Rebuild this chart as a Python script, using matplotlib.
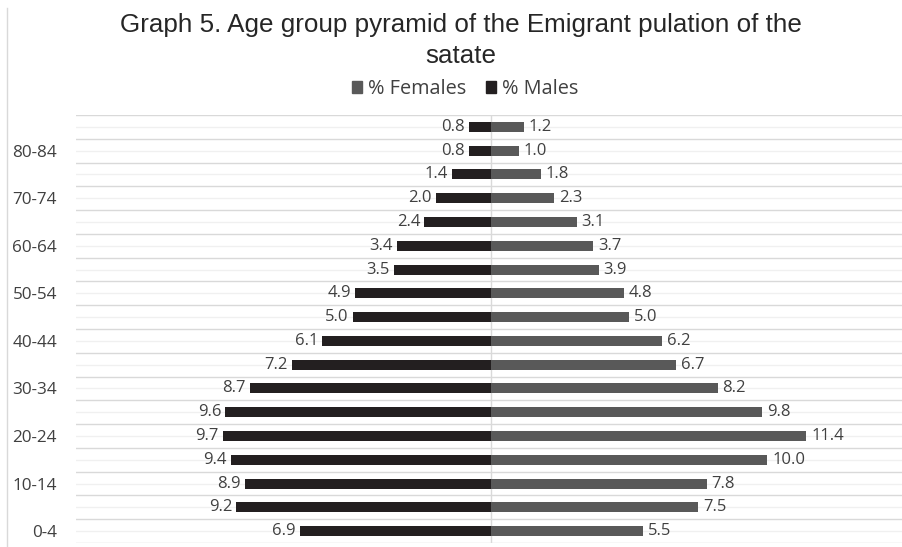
import matplotlib
matplotlib.use("Agg")
import matplotlib.pyplot as plt
import numpy as np
from matplotlib.patches import Patch
from matplotlib.lines import Line2D

categories = ["0-4", "5-9", "10-14", "15-19", "20-24", "25-29", "30-34", "35-39",
              "40-44", "45-49", "50-54", "55-59", "60-64", "65-69", "70-74",
              "75-79", "80-84", "85+"]
males = [6.9, 9.2, 8.9, 9.4, 9.7, 9.6, 8.7, 7.2, 6.1, 5.0, 4.9, 3.5, 3.4, 2.4, 2.0, 1.4, 0.8, 0.8]
females = [5.5, 7.5, 7.8, 10.0, 11.4, 9.8, 8.2, 6.7, 6.2, 5.0, 4.8, 3.9, 3.7, 3.1, 2.3, 1.8, 1.0, 1.2]

male_color = "#231f20"
female_color = "#595959"
text_color = "#404040"

fig = plt.figure(figsize=(9.02, 5.47), dpi=100)
ax = fig.add_axes([76/902, 4/547, 1 - 76/902, 428/547])

y = np.arange(len(categories))
ax.barh(y, [-m for m in males], height=0.42, color=male_color, zorder=3)
ax.barh(y, females, height=0.42, color=female_color, zorder=3)

for yi, m, f in zip(y, males, females):
    ax.annotate(f"{m:.1f}", (-m, yi), xytext=(-3, 0), textcoords="offset points",
                ha="right", va="center", fontsize=12, color=text_color, family="Open Sans")
    ax.annotate(f"{f:.1f}", (f, yi), xytext=(3.5, 0), textcoords="offset points",
                ha="left", va="center", fontsize=12, color=text_color, family="Open Sans")

ax.set_xlim(-15, (902 - 491) / 27.65)
ax.set_ylim(-0.5, len(categories) - 0.5)

# gridlines
for b in np.arange(-0.5, len(categories), 1.0):
    ax.axhline(b, color="#d9d9d9", lw=1.0, zorder=1)
for c in y:
    ax.axhline(c, color="#f0f0f0", lw=1.0, zorder=1)
ax.axvline(0, color="#d9d9d9", lw=1.0, zorder=2)

ax.set_yticks(y[::2])
ax.set_yticklabels(categories[::2], fontsize=12.3, color=text_color, family="Open Sans")
ax.tick_params(axis="y", length=0, pad=13.7)
ax.set_xticks([])
for s in ax.spines.values():
    s.set_visible(False)

# left chart border
fig.add_artist(Line2D([7/902, 7/902], [0, 1 - 8/547], transform=fig.transFigure,
                      color="#d9d9d9", lw=1.0))

fig.text(461/902, 1 - 25/547, "Graph 5. Age group pyramid of the Emigrant pulation of the",
         ha="center", va="center", fontsize=18.7, color="#262626", family="Liberation Sans")
fig.text(461/902, 1 - 56/547, "satate",
         ha="center", va="center", fontsize=18.7, color="#262626", family="Liberation Sans")

handles = [Patch(color=female_color, label="% Females"), Patch(color=male_color, label="% Males")]
leg = fig.legend(handles=handles, loc="center", bbox_to_anchor=(465/902, 1 - 89/547), ncol=2,
                 frameon=False, handlelength=0.5, handleheight=0.5, handletextpad=0.3,
                 columnspacing=1.0, prop={"family": "Open Sans", "size": 14.3})
for t in leg.get_texts():
    t.set_color(text_color)

fig.savefig("out.png", dpi=100, facecolor="white")
